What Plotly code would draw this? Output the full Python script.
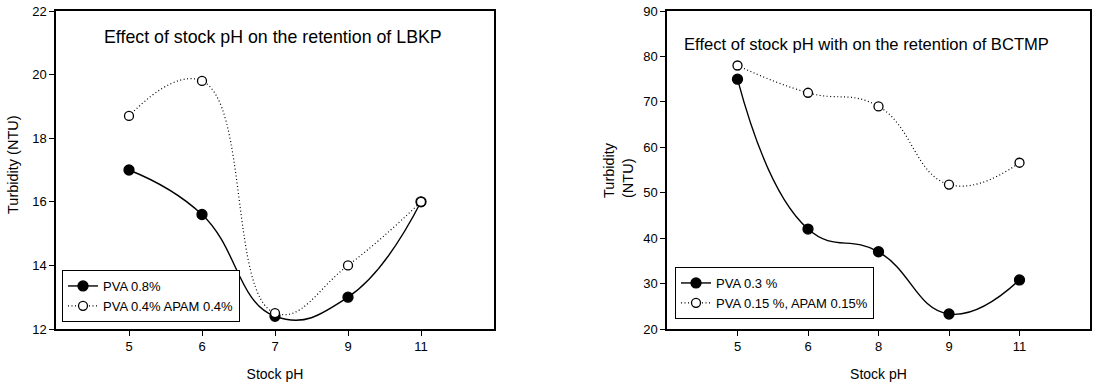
import plotly.graph_objects as go

# Data
ph_left = ["5", "6", "7", "9", "11"]
pva08 = [17.0, 15.6, 12.4, 13.0, 16.0]
pva04_apam04 = [18.7, 19.8, 12.5, 14.0, 16.0]

ph_right = ["5", "6", "8", "9", "11"]
pva03 = [75.0, 42.0, 37.0, 23.3, 30.8]
pva015_apam015 = [78.0, 72.0, 69.0, 51.8, 56.6]

title_left = "Effect of stock pH on the retention of LBKP"
title_right = "Effect of stock pH with on the retention of BCTMP"

FONT = "Liberation Sans, Arial, sans-serif"
W, H = 1093, 385
T = 11
B = H - 329
PH = H - T - B

def px(pix):
    return pix / W

def py(pix):
    return 1 - (pix - T) / PH

fig = go.Figure()
idx = list(range(len(ph_left)))

def add(xs, ys, name, filled, xa, ya, legend):
    fig.add_trace(go.Scatter(
        x=xs, y=ys, name=name, mode="lines+markers",
        line=dict(color="black", width=1.4 if filled else 1.2,
                  dash="solid" if filled else "1px,2.5px",
                  shape="spline", smoothing=1.3),
        marker=dict(symbol="circle",
                    size=10 if filled else 9, color="black" if filled else "white",
                    line=dict(color="black", width=1.3)),
        xaxis=xa, yaxis=ya, legend=legend))

add(idx, pva08, "PVA 0.8%", True, "x", "y", "legend")
add(idx, pva04_apam04, "PVA 0.4% APAM 0.4%", False, "x", "y", "legend")
add(idx, pva03, "PVA 0.3 %", True, "x2", "y2", "legend2")
add(idx, pva015_apam015, "PVA 0.15 %, APAM 0.15%", False, "x2", "y2", "legend2")

axcommon = dict(showline=True, linecolor="black", linewidth=1.5, mirror=True,
                ticks="outside", ticklen=5, tickcolor="black", tickwidth=1.3, showgrid=False,
                zeroline=False, automargin=False,
                tickfont=dict(family=FONT, size=13, color="black"))

fig.update_layout(
    width=W, height=H,
    margin=dict(l=0, r=0, t=T, b=B, autoexpand=False),
    paper_bgcolor="white", plot_bgcolor="white",
    font=dict(family=FONT, color="black"),
    xaxis=dict(domain=[px(56), px(494)], range=[-1, 5], tickvals=idx, ticktext=ph_left,
               title=dict(text="Stock pH", font=dict(size=14), standoff=16), **axcommon),
    yaxis=dict(range=[12, 22], dtick=2, **axcommon),
    xaxis2=dict(domain=[px(667), px(1090)], range=[-1, 5], tickvals=idx, ticktext=ph_right, anchor="y2",
                title=dict(text="Stock pH", font=dict(size=14), standoff=16), **axcommon),
    yaxis2=dict(range=[20, 90], dtick=10, anchor="x2", **axcommon),
    legend=dict(x=px(62), y=py(270), xref="paper", yref="paper", xanchor="left", yanchor="top",
                bordercolor="black", borderwidth=1, bgcolor="white",
                font=dict(family=FONT, size=13), tracegroupgap=0, itemwidth=30),
    legend2=dict(x=px(675), y=py(267), xref="paper", yref="paper", xanchor="left", yanchor="top",
                 bordercolor="black", borderwidth=1, bgcolor="white",
                 font=dict(family=FONT, size=13), tracegroupgap=0, itemwidth=30),
    showlegend=True,
    annotations=[
        dict(text=title_left, x=px(102), y=py(37), xref="paper", yref="paper", showarrow=False,
             xanchor="left", yanchor="middle", font=dict(family=FONT, size=17.8)),
        dict(text=title_right, x=px(682), y=py(45), xref="paper", yref="paper", showarrow=False,
             xanchor="left", yanchor="middle", font=dict(family=FONT, size=16.6)),
        dict(text="Turbidity (NTU)", x=px(13), y=py(165), xref="paper", yref="paper", showarrow=False,
             textangle=-90, xanchor="center", yanchor="middle", font=dict(family=FONT, size=14.5)),
        dict(text="Turbidity<br>(NTU)", x=px(618), y=py(200), xref="paper", yref="paper", showarrow=False,
             textangle=-90, align="left", xanchor="center", yanchor="bottom",
             font=dict(family=FONT, size=14.5)),
    ],
)

fig.write_html("out.html",
               config={"displayModeBar": False},
               post_script="document.body.style.margin='0';document.body.style.overflow='hidden';")
